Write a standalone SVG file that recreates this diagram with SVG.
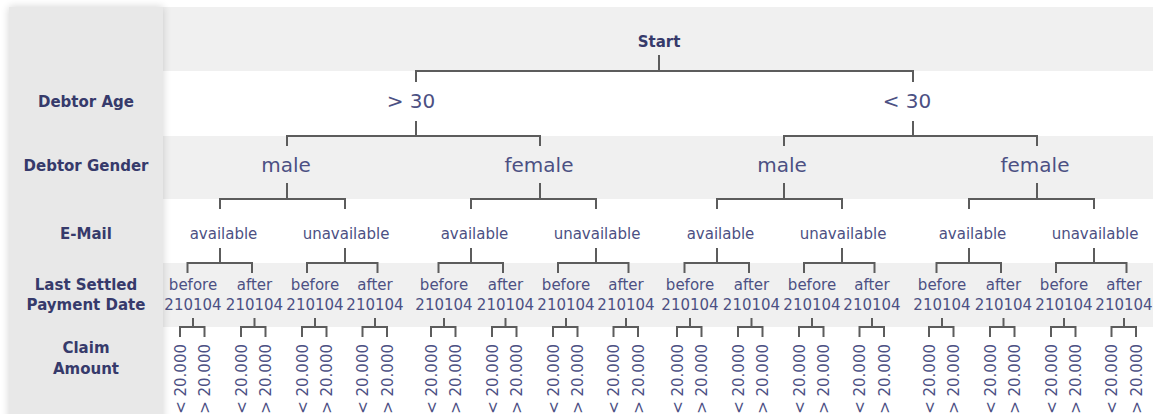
<svg xmlns="http://www.w3.org/2000/svg" width="1157" height="414" viewBox="0 0 1157 414">
<style>
.band{fill:#f0f0f0}
.lbl{font-family:"DejaVu Sans","Liberation Sans",sans-serif;font-weight:bold;font-size:15px;fill:#363a6b;text-anchor:middle}
.big{font-family:"DejaVu Sans","Liberation Sans",sans-serif;font-weight:normal;font-size:20px;fill:#4c5083;text-anchor:middle}
.mid{font-family:"DejaVu Sans","Liberation Sans",sans-serif;font-weight:normal;font-size:15px;fill:#4c5083;text-anchor:middle}
.leaf{font-family:"DejaVu Sans","Liberation Sans",sans-serif;font-weight:normal;font-size:15px;fill:#4c5083;text-anchor:end}
.con{fill:none;stroke:#5c5c5c;stroke-width:2}
</style>
<defs>
<filter id="sh" x="-20%" y="-5%" width="140%" height="110%">
<feGaussianBlur in="SourceAlpha" stdDeviation="4"/>
<feComponentTransfer><feFuncA type="linear" slope="0.18"/></feComponentTransfer>
<feMerge><feMergeNode/><feMergeNode in="SourceGraphic"/></feMerge>
</filter>
</defs>
<rect x="0" y="0" width="1157" height="414" fill="#ffffff"/>
<g id="bands">
<rect x="163" y="7" width="990" height="407" fill="#ffffff"/>
<rect class="band" x="163" y="7" width="990" height="64"/>
<rect class="band" x="163" y="136" width="990" height="63"/>
<rect class="band" x="163" y="263" width="990" height="64"/>
</g>
<g id="panel">
<rect x="9" y="7" width="154" height="420" fill="#e8e8e8" filter="url(#sh)"/>
<text class="lbl" x="86" y="107">Debtor Age</text>
<text class="lbl" x="86" y="171">Debtor Gender</text>
<text class="lbl" x="86" y="239">E-Mail</text>
<text class="lbl" x="86" y="290">Last Settled</text>
<text class="lbl" x="86" y="310">Payment Date</text>
<text class="lbl" x="86" y="353">Claim</text>
<text class="lbl" x="86" y="374">Amount</text>
</g>
<g id="connectors">
<path class="con" d="M659 55V71 M416 82V71H913V82"/>
<path class="con" d="M416 121V136 M287 146V136H540V146 M913 121V136 M784 146V136H1037V146"/>
<path class="con" d="M287 183V199 M220 209V199H345V209 M540 183V199 M471 209V199H596V209 M784 183V199 M717 209V199H842V209 M1037 183V199 M969 209V199H1094V209"/>
<path class="con" d="M220 248V263 M187.5 273V263H252V273 M345 248V263 M307 273V263H377.5V273
M471 248V263 M438.5 273V263H503V273 M596 248V263 M558 273V263H628.5V273
M717 248V263 M684.5 273V263H749V273 M842 248V263 M804 273V263H874.5V273
M969 248V263 M936.5 273V263H1001V273 M1094 248V263 M1056 273V263H1126.5V273"/>
<path class="con" d="M193 318V327 M180 337V327H204.5V337 M254.5 318V327 M241 337V327H265.5V337 M315 318V327 M302 337V327H326.5V337 M375 318V327 M362.5 337V327H387V337
M444 318V327 M431 337V327H455.5V337 M505.5 318V327 M492 337V327H516.5V337 M566 318V327 M553 337V327H577.5V337 M626 318V327 M613.5 337V327H638V337
M690 318V327 M677 337V327H701.5V337 M751.5 318V327 M738 337V327H762.5V337 M812 318V327 M799 337V327H823.5V337 M872 318V327 M859.5 337V327H884V337
M942 318V327 M929 337V327H953.5V337 M1003.5 318V327 M990 337V327H1014.5V337 M1064 318V327 M1051 337V327H1075.5V337 M1124 318V327 M1111.5 337V327H1136V337"/>
</g>
<g id="start"><text class="lbl" x="659" y="47">Start</text></g>
<g id="age-gt30"><text class="big" x="411" y="108">&gt; 30</text></g>
<g id="age-lt30"><text class="big" x="907" y="108">&lt; 30</text></g>
<g id="g1-male"><text class="big" x="286" y="172">male</text></g>
<g id="g2-female"><text class="big" x="539" y="172">female</text></g>
<g id="g3-male"><text class="big" x="782" y="172">male</text></g>
<g id="g4-female"><text class="big" x="1035" y="172">female</text></g>
<g id="email">
<text class="mid" x="223.5" y="239">available</text><text class="mid" x="346" y="239">unavailable</text>
<text class="mid" x="474.5" y="239">available</text><text class="mid" x="597" y="239">unavailable</text>
<text class="mid" x="720.5" y="239">available</text><text class="mid" x="843" y="239">unavailable</text>
<text class="mid" x="972.5" y="239">available</text><text class="mid" x="1095" y="239">unavailable</text>
</g>
<g id="payment">
<text class="mid" x="193" y="290">before</text><text class="mid" x="193" y="310">210104</text>
<text class="mid" x="254.5" y="290">after</text><text class="mid" x="254.5" y="310">210104</text>
<text class="mid" x="315" y="290">before</text><text class="mid" x="315" y="310">210104</text>
<text class="mid" x="375" y="290">after</text><text class="mid" x="375" y="310">210104</text>
<text class="mid" x="444" y="290">before</text><text class="mid" x="444" y="310">210104</text>
<text class="mid" x="505.5" y="290">after</text><text class="mid" x="505.5" y="310">210104</text>
<text class="mid" x="566" y="290">before</text><text class="mid" x="566" y="310">210104</text>
<text class="mid" x="626" y="290">after</text><text class="mid" x="626" y="310">210104</text>
<text class="mid" x="690" y="290">before</text><text class="mid" x="690" y="310">210104</text>
<text class="mid" x="751.5" y="290">after</text><text class="mid" x="751.5" y="310">210104</text>
<text class="mid" x="812" y="290">before</text><text class="mid" x="812" y="310">210104</text>
<text class="mid" x="872" y="290">after</text><text class="mid" x="872" y="310">210104</text>
<text class="mid" x="942" y="290">before</text><text class="mid" x="942" y="310">210104</text>
<text class="mid" x="1003.5" y="290">after</text><text class="mid" x="1003.5" y="310">210104</text>
<text class="mid" x="1064" y="290">before</text><text class="mid" x="1064" y="310">210104</text>
<text class="mid" x="1124" y="290">after</text><text class="mid" x="1124" y="310">210104</text>
</g>
<g id="claims">
<text class="leaf" transform="translate(185.5 344) rotate(-90)">&lt; 20.000</text><text class="leaf" transform="translate(210 344) rotate(-90)">&gt; 20.000</text>
<text class="leaf" transform="translate(246.5 344) rotate(-90)">&lt; 20.000</text><text class="leaf" transform="translate(271 344) rotate(-90)">&gt; 20.000</text>
<text class="leaf" transform="translate(307.5 344) rotate(-90)">&lt; 20.000</text><text class="leaf" transform="translate(332 344) rotate(-90)">&gt; 20.000</text>
<text class="leaf" transform="translate(368 344) rotate(-90)">&lt; 20.000</text><text class="leaf" transform="translate(392.5 344) rotate(-90)">&gt; 20.000</text>
<text class="leaf" transform="translate(436.5 344) rotate(-90)">&lt; 20.000</text><text class="leaf" transform="translate(461 344) rotate(-90)">&gt; 20.000</text>
<text class="leaf" transform="translate(497.5 344) rotate(-90)">&lt; 20.000</text><text class="leaf" transform="translate(522 344) rotate(-90)">&gt; 20.000</text>
<text class="leaf" transform="translate(558.5 344) rotate(-90)">&lt; 20.000</text><text class="leaf" transform="translate(583 344) rotate(-90)">&gt; 20.000</text>
<text class="leaf" transform="translate(619 344) rotate(-90)">&lt; 20.000</text><text class="leaf" transform="translate(643.5 344) rotate(-90)">&gt; 20.000</text>
<text class="leaf" transform="translate(682.5 344) rotate(-90)">&lt; 20.000</text><text class="leaf" transform="translate(707 344) rotate(-90)">&gt; 20.000</text>
<text class="leaf" transform="translate(743.5 344) rotate(-90)">&lt; 20.000</text><text class="leaf" transform="translate(768 344) rotate(-90)">&gt; 20.000</text>
<text class="leaf" transform="translate(804.5 344) rotate(-90)">&lt; 20.000</text><text class="leaf" transform="translate(829 344) rotate(-90)">&gt; 20.000</text>
<text class="leaf" transform="translate(865 344) rotate(-90)">&lt; 20.000</text><text class="leaf" transform="translate(889.5 344) rotate(-90)">&gt; 20.000</text>
<text class="leaf" transform="translate(934.5 344) rotate(-90)">&lt; 20.000</text><text class="leaf" transform="translate(959 344) rotate(-90)">&gt; 20.000</text>
<text class="leaf" transform="translate(995.5 344) rotate(-90)">&lt; 20.000</text><text class="leaf" transform="translate(1020 344) rotate(-90)">&gt; 20.000</text>
<text class="leaf" transform="translate(1056.5 344) rotate(-90)">&lt; 20.000</text><text class="leaf" transform="translate(1081 344) rotate(-90)">&gt; 20.000</text>
<text class="leaf" transform="translate(1117 344) rotate(-90)">&lt; 20.000</text><text class="leaf" transform="translate(1141.5 344) rotate(-90)">&gt; 20.000</text>
</g>
</svg>
